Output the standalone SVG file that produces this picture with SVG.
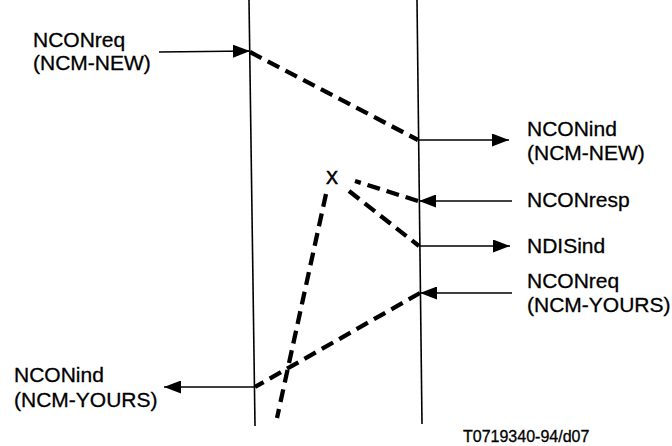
<svg xmlns="http://www.w3.org/2000/svg" width="672" height="446" viewBox="0 0 672 446">
<style>
.t{font-family:"Liberation Sans",Arial,sans-serif;font-size:21px;fill:#000;stroke:#000;stroke-width:0.3}
.life{stroke:#000;stroke-width:1.6;fill:none}
.arr{stroke:#000;stroke-width:1.6;fill:none}
.dash{stroke:#000;stroke-width:4.3;stroke-dasharray:13 7;fill:none}
</style>
<defs>
<marker id="ah" viewBox="0 0 17 13" refX="17" refY="6.5" markerWidth="17" markerHeight="13" markerUnits="userSpaceOnUse" orient="auto">
<path d="M0,0 L17,6.5 L0,13 Z" fill="#000"/>
</marker>
</defs>
<rect width="672" height="446" fill="#fff"/>
<g id="lifelines">
<line class="life" x1="249" y1="0" x2="255" y2="426"/>
<line class="life" x1="417" y1="0" x2="422" y2="424"/>
</g>
<g id="connectors">
<line class="arr" x1="159" y1="52" x2="250" y2="51" marker-end="url(#ah)"/>
<line class="dash" x1="250" y1="52" x2="418" y2="140"/>
<line class="arr" x1="418" y1="140" x2="509" y2="140" marker-end="url(#ah)"/>
<line class="arr" x1="512" y1="201" x2="419" y2="201" marker-end="url(#ah)"/>
<line class="dash" x1="418" y1="201" x2="355" y2="181"/>
<line class="dash" x1="349" y1="191" x2="419" y2="246"/>
<line class="arr" x1="419" y1="246" x2="510" y2="246" marker-end="url(#ah)"/>
<line class="arr" x1="512" y1="293" x2="420" y2="293" marker-end="url(#ah)"/>
<line class="dash" x1="420" y1="293" x2="255" y2="387"/>
<line class="arr" x1="255" y1="387" x2="164" y2="387" marker-end="url(#ah)"/>
<line class="dash" x1="326" y1="194" x2="277" y2="418"/>
</g>
<g id="n1"><text class="t" x="33" y="47">NCONreq</text><text class="t" x="33" y="70">(NCM-NEW)</text></g>
<g id="n2"><text class="t" x="527" y="136">NCONind</text><text class="t" x="527" y="160">(NCM-NEW)</text></g>
<g id="n3"><text class="t" x="332" y="184" text-anchor="middle" style="font-size:18px;stroke-width:0.6">X</text></g>
<g id="n4"><text class="t" x="527" y="207">NCONresp</text></g>
<g id="n5"><text class="t" x="527" y="253">NDISind</text></g>
<g id="n6"><text class="t" x="527" y="288">NCONreq</text><text class="t" x="527" y="312">(NCM-YOURS)</text></g>
<g id="n7"><text class="t" x="14" y="382">NCONind</text><text class="t" x="14" y="407">(NCM-YOURS)</text></g>
<g id="label"><text class="t" x="463" y="442" style="font-size:16px">T0719340-94/d07</text></g>
</svg>
